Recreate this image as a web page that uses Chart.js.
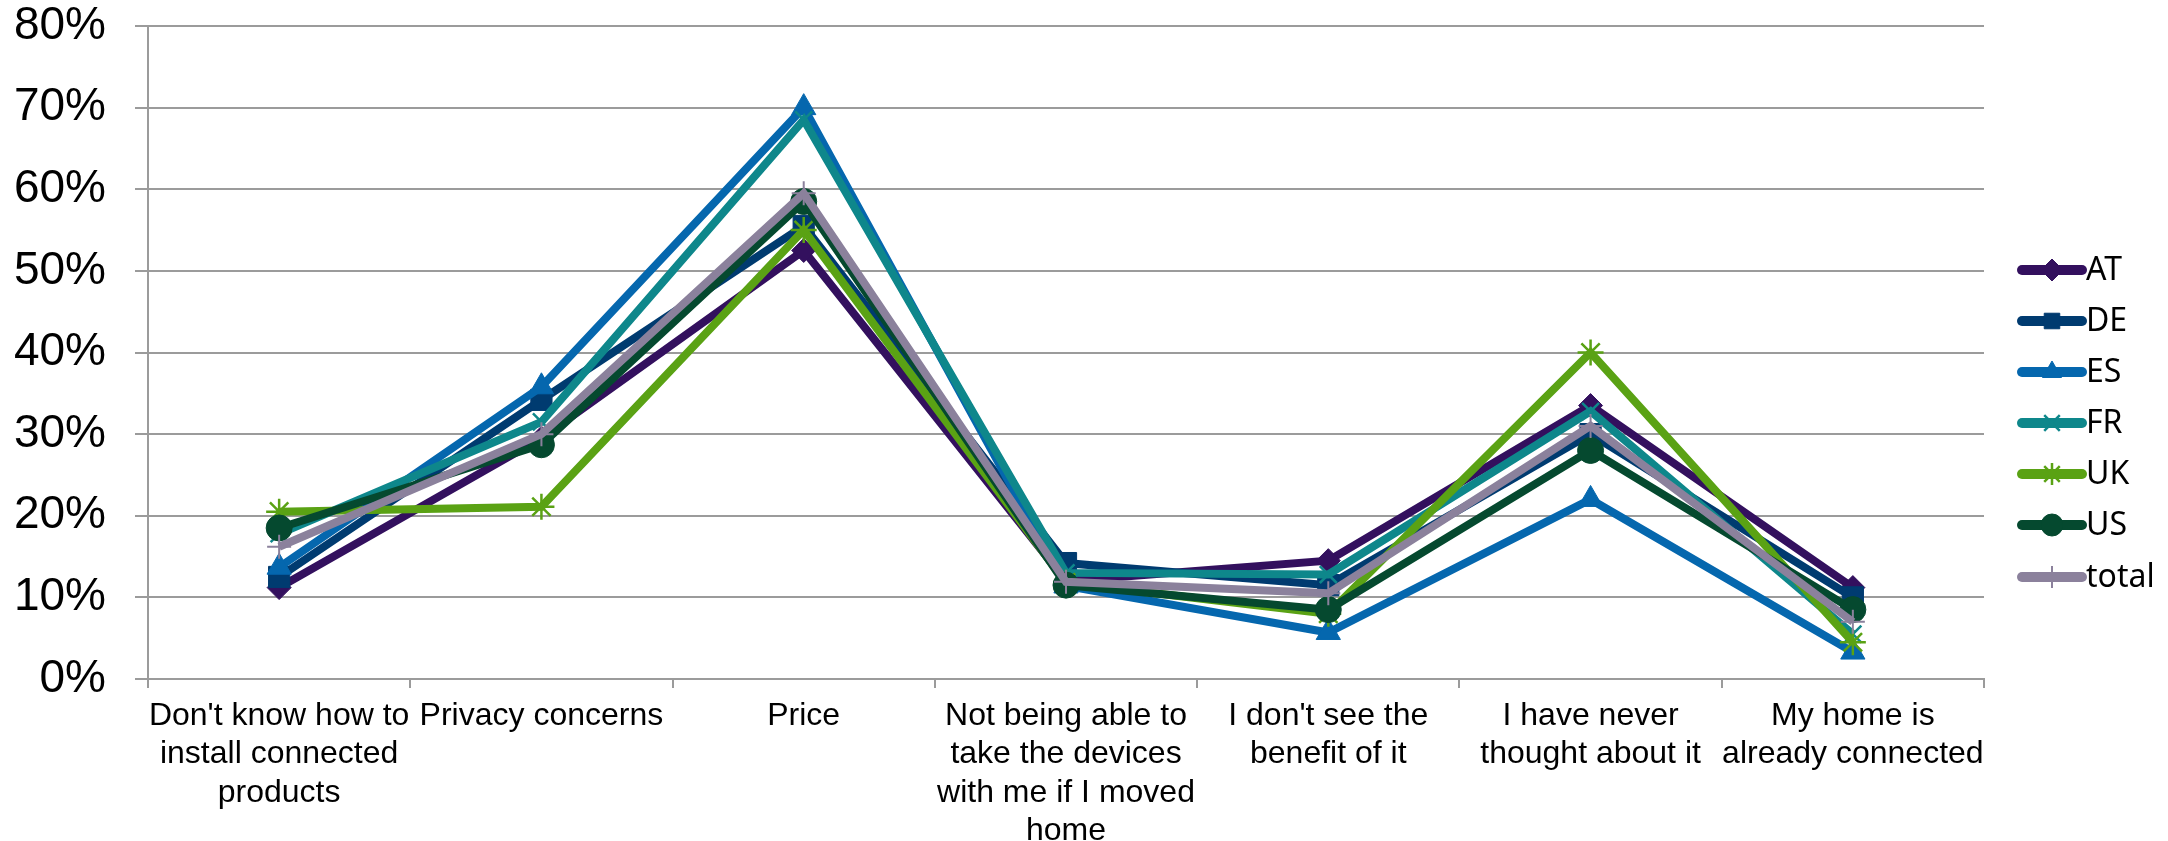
<!DOCTYPE html>
<html>
<head>
<meta charset="utf-8">
<title>Barriers to connected home products</title>
<script src="https://cdn.jsdelivr.net/npm/chart.js@4/dist/chart.umd.min.js"></script>
<style>
  html, body { margin: 0; padding: 0; background: #ffffff; }
  #wrap { width: 2168px; height: 841px; position: relative; }
</style>
</head>
<body>
<div id="wrap"><canvas id="chart" width="2168" height="841"></canvas></div>
<script>
// Answer categories (multi-line labels)
const categories = [
  ["Don't know how to", "install connected", "products"],
  "Privacy concerns",
  "Price",
  ["Not being able to", "take the devices", "with me if I moved", "home"],
  ["I don't see the", "benefit of it"],
  ["I have never", "thought about it"],
  ["My home is", "already connected"]
];

// Share of respondents per country, in percent
const AT    = [11.2, 29.5, 52.5, 12.0, 14.5, 33.5, 11.2];
const DE    = [12.5, 34.2, 55.5, 14.2, 11.5, 30.0, 10.0];
const ES    = [13.7, 35.8, 70.0, 11.4,  5.7, 22.0,  3.3];
const FR    = [17.8, 31.5, 68.5, 13.0, 12.8, 32.8,  5.5];
const UK    = [20.5, 21.1, 55.0, 11.8,  8.0, 40.0,  4.5];
const US    = [18.5, 28.7, 58.5, 11.5,  8.5, 28.0,  8.5];
const total = [16.2, 30.0, 59.5, 11.9, 10.5, 31.0,  7.0];

const seriesNames = ["AT", "DE", "ES", "FR", "UK", "US", "total"];
const seriesData  = [AT, DE, ES, FR, UK, US, total];

// Y axis: 0% .. 80% in steps of 10
const yMin = 0, yMax = 80, yStep = 10;

const colors  = ["#33105e", "#003b70", "#0567ae", "#0e878b", "#5aa214", "#05492f", "#8b819c"];
const styles  = ["rectRot", "rect", "triangle", "crossRot", "star", "circle", "cross"];
const radii   = [12, 15, 14, 12, 13, 13, 12];
const pBorder = [1, 1, 1, 2.5, 2.5, 1, 2];

const datasets = seriesNames.map((name, i) => ({
  label: name,
  data: seriesData[i],
  borderColor: colors[i],
  backgroundColor: colors[i],
  borderWidth: 8,
  borderJoinStyle: 'miter',
  borderCapStyle: 'butt',
  pointStyle: styles[i],
  pointRadius: radii[i],
  pointHoverRadius: radii[i],
  pointBorderWidth: pBorder[i],
  pointBackgroundColor: colors[i],
  pointBorderColor: colors[i],
  tension: 0,
  // later series are painted over earlier ones
  order: seriesNames.length - i
}));

// Legend at the right: short line with the series marker, then the name
const sideLegend = {
  id: 'sideLegend',
  afterDraw(chart) {
    const ctx = chart.ctx;
    const x0 = 2022, x1 = 2082, textX = 2086;
    const rows = [270, 321, 372, 423, 474, 525, 577];
    const helpers = Chart.helpers || {};
    ctx.save();
    chart.data.datasets.forEach((ds, i) => {
      const y = rows[i];
      ctx.beginPath();
      ctx.strokeStyle = ds.borderColor;
      ctx.lineWidth = 10;
      ctx.lineCap = 'round';
      ctx.moveTo(x0, y);
      ctx.lineTo(x1, y);
      ctx.stroke();
      ctx.fillStyle = ds.pointBackgroundColor;
      ctx.strokeStyle = ds.pointBorderColor;
      ctx.lineWidth = ds.pointBorderWidth;
      ctx.lineCap = 'butt';
      if (helpers.drawPoint) {
        helpers.drawPoint(ctx, {
          pointStyle: ds.pointStyle,
          radius: Math.min(ds.pointRadius, 11),
          rotation: 0,
          borderWidth: ds.pointBorderWidth
        }, (x0 + x1) / 2, y);
      }
      ctx.fillStyle = '#000000';
      ctx.font = '32px "Noto Sans", "Open Sans", sans-serif';
      ctx.textAlign = 'left';
      ctx.textBaseline = 'middle';
      ctx.fillText(ds.label, textX, y + 1);
    });
    ctx.restore();
  }
};

const gridGrey = '#9b9b9b';

new Chart(document.getElementById('chart'), {
  type: 'line',
  data: { labels: categories, datasets },
  options: {
    responsive: false,
    animation: false,
    devicePixelRatio: 1,
    layout: { padding: { left: 0, right: 184, top: 26, bottom: 0 } },
    plugins: {
      legend: { display: false },
      title: { display: false },
      tooltip: { enabled: false }
    },
    scales: {
      x: {
        type: 'category',
        offset: true,
        afterFit(scale) {
          scale.height = 162;
          scale.paddingLeft = 0;
          scale.paddingRight = 0;
        },
        grid: {
          offset: true,
          drawOnChartArea: false,
          drawTicks: true,
          tickLength: 9,
          color: gridGrey,
          lineWidth: 2
        },
        border: { display: true, color: gridGrey, width: 2 },
        ticks: {
          autoSkip: false,
          maxRotation: 0,
          minRotation: 0,
          padding: 9,
          color: '#000000',
          font: { family: '"Liberation Sans", Arial, sans-serif', size: 32, lineHeight: 1.2 }
        }
      },
      y: {
        min: yMin,
        max: yMax,
        afterFit(scale) {
          scale.width = 148;
          scale.paddingTop = 0;
          scale.paddingBottom = 0;
        },
        grid: {
          color: gridGrey,
          lineWidth: 2,
          drawTicks: true,
          tickLength: 13
        },
        border: { display: true, color: gridGrey, width: 2 },
        ticks: {
          stepSize: yStep,
          padding: 29,
          color: '#000000',
          font: { family: '"Liberation Sans", Arial, sans-serif', size: 46, lineHeight: 1.13 },
          callback: (v) => v + '%'
        }
      }
    }
  },
  plugins: [sideLegend]
});
</script>
</body>
</html>
